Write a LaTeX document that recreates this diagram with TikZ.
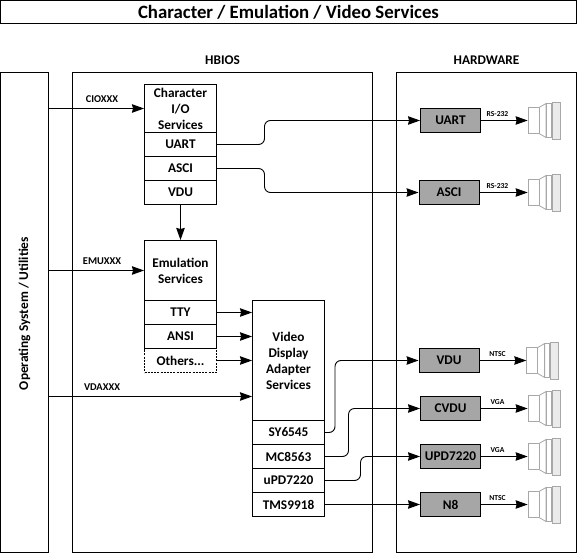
\documentclass[tikz,border=0pt]{standalone}
\usepackage{fontspec}
\setmainfont{Carlito}
\usepackage{xcolor}
\usetikzlibrary{arrows.meta}
\definecolor{chw}{HTML}{A6A6A6}
\definecolor{cplug}{HTML}{A8A8A8}
\definecolor{ctex}{HTML}{EBEBEB}
\tikzset{
  every node/.style={font=\fontsize{13.3}{16}\selectfont\bfseries},
  outer/.style={draw,line width=1pt,inner sep=0pt},
  svc/.style={draw,line width=1pt,inner sep=0pt,minimum width=72pt,minimum height=24pt,align=center},
  hwbox/.style={draw,line width=1pt,fill=chw,inner sep=0pt,minimum width=60pt,minimum height=24pt},
  apilabel/.style={font=\fontsize{10.4}{12}\selectfont\bfseries},
  siglabel/.style={font=\fontsize{7.6}{9}\selectfont\bfseries},
  link/.style={line width=0.9pt,-{Stealth[length=12pt,width=8.5pt,inset=1pt]}},
  bent/.style={link,rounded corners=6pt},
  plugbody/.style={draw=cplug,line width=0.8pt,fill=white,inner sep=0pt,minimum width=11pt,minimum height=26.5pt},
  plug/.pic={
    \node[plugbody] (-body) at (5.5,0) {};
    \draw[cplug,line width=0.8pt] (11,-13) -- (18,-17) -- (18,17) -- (11,13);
    \draw[cplug,line width=0.8pt] (18,-17) rectangle (23,17);
    \draw[cplug,line width=0.8pt,fill=ctex] (24,-18.5) rectangle (32,18.5);
  }
}

\begin{document}
\begin{tikzpicture}[x=1pt,y=-1pt]
  \useasboundingbox (0,0) rectangle (577,553);
  % title and outer columns
  \node[outer,minimum width=576pt,minimum height=23.5pt,font=\fontsize{18.8}{20}\selectfont\bfseries] (title) at (288.5,12.25) {Character / Emulation / Video Services};
  \node[outer,minimum width=48pt,minimum height=480pt] (os) at (24.5,312.5) {};
  \node[outer,minimum width=300pt,minimum height=480pt] (hbios) at (222.5,312.5) {};
  \node[outer,minimum width=180pt,minimum height=480pt] (hw) at (486.5,312.5) {};
  \node[rotate=90,font=\fontsize{13.4}{16}\selectfont\bfseries] (oslabel) at (24.5,313.5) {Operating System / Utilities};
  \node (hbioslabel) at (222.5,60.5) {HBIOS};
  \node (hwlabel) at (486.5,60.5) {HARDWARE};

  % character services
  \node[svc,minimum height=48pt] (chario) at (180.5,108.5) {Character\\I/O\\Services};
  \node[svc] (cuart) at (180.5,144.5) {UART};
  \node[svc] (casci) at (180.5,168.5) {ASCI};
  \node[svc] (cvdu) at (180.5,192.5) {VDU};

  % emulation services
  \node[svc,minimum height=60pt] (emu) at (180.5,270.5) {Emulation\\Services};
  \node[svc] (tty) at (180.5,312.5) {TTY};
  \node[svc] (ansi) at (180.5,336.5) {ANSI};
  \node[svc,dash pattern=on 2pt off 1.2pt] (others) at (180.5,360.5) {Others...};

  % video display adapters
  \node[svc,minimum height=120pt] (vda) at (288.5,360.5) {Video\\Display\\Adapter\\Services};
  \node[svc] (sy) at (288.5,432.5) {SY6545};
  \node[svc] (mc) at (288.5,456.5) {MC8563};
  \node[svc] (upd) at (288.5,480.5) {uPD7220};
  \node[svc] (tms) at (288.5,504.5) {TMS9918};

  % hardware rows
  \foreach \hwname/\hwx/\hwy/\hwtext/\plugx/\sigtext in {
      huart/450.5/120.5/UART/528/RS-232,
      hasci/449/192.5/ASCI/528/RS-232,
      hvdu/449/360.5/VDU/526.7/NTSC,
      hcvdu/450.5/408.5/CVDU/528/VGA,
      hupd/450.5/456.5/UPD7220/528/VGA,
      hneight/450.5/504.5/N8/528/NTSC} {
    \node[hwbox] (\hwname) at (\hwx,\hwy) {\hwtext};
    \pic (\hwname plug) at (\plugx,\hwy) {plug};
    \draw[link] (\hwname.east) -- (\hwname plug-body.west);
    \node[siglabel] (\hwname sig) at (497.5,\hwy-6.5) {\sigtext};
  }

  % os calls
  \coordinate (vdacall) at (48.5,396.5);
  \draw[link] (os.east |- chario.west) -- (chario.west);
  \draw[link] (os.east |- emu.west) -- (emu.west);
  \draw[link] (vdacall) -- (vdacall -| vda.west);
  \node[apilabel] (cioxxx) at (102,99.5) {CIOXXX};
  \node[apilabel] (emuxxx) at (102,261.5) {EMUXXX};
  \node[apilabel] (vdaxxx) at (102,387.5) {VDAXXX};

  % inside hbios
  \draw[link] (cvdu.south) -- (emu.north);
  \foreach \src in {tty,ansi,others} \draw[link] (\src.east) -- (\src.east -| vda.west);
  \draw[link] (tms.east) -- (hneight.west);

  % bent links
  \coordinate (bentuart) at (264.5,132.5);
  \coordinate (bentasci) at (264.5,180.5);
  \coordinate (bentsy) at (335,396.5);
  \coordinate (bentmc) at (348.5,432.5);
  \coordinate (bentupd) at (360.5,468.5);
  \draw[bent] (cuart.east) -| (bentuart) |- (huart.west);
  \draw[bent] (casci.east) -| (bentasci) |- (hasci.west);
  \draw[bent] (sy.east) -| (bentsy) |- (hvdu.west);
  \draw[bent] (mc.east) -| (bentmc) |- (hcvdu.west);
  \draw[bent] (upd.east) -| (bentupd) |- (hupd.west);
\end{tikzpicture}
\end{document}
